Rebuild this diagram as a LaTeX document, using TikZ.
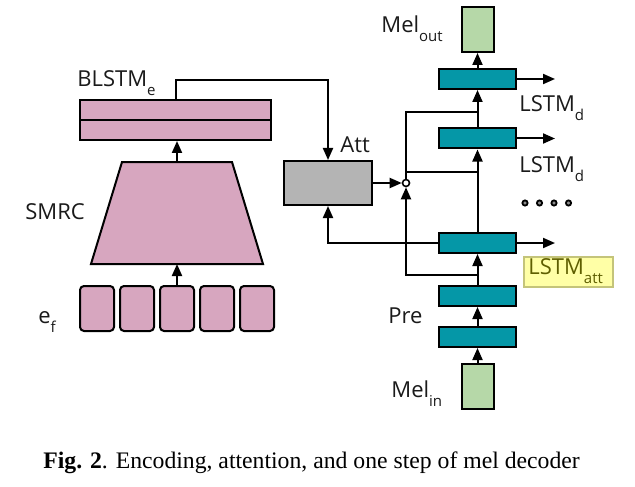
\documentclass[tikz,border=0pt]{standalone}
\usepackage{fontspec}
\setmainfont{Liberation Serif}
\newfontfamily\diagfont{Open Sans}
\definecolor{encPink}{HTML}{D7A6BF}
\definecolor{decTeal}{HTML}{0597A7}
\definecolor{attGray}{HTML}{B4B4B4}
\definecolor{melGreen}{HTML}{B6D8A8}
\definecolor{attYellow}{HTML}{FFFFA6}
\definecolor{attBorder}{HTML}{C4C47A}
\definecolor{attText}{HTML}{5E5E00}
\definecolor{labelText}{HTML}{1A1A1A}
\usetikzlibrary{calc,positioning,arrows.meta}

\newcommand{\lsub}[1]{\raisebox{-4.5pt}{\fontsize{7.5}{8}\selectfont #1}}

\begin{document}
\begin{tikzpicture}[x=0.5pt, y=-0.5pt,
  enc/.style={draw=black, line width=1pt, fill=encPink},
  frame/.style={enc, rounded corners=2pt, minimum width=17pt, minimum height=22.5pt, inner sep=0pt},
  lstm/.style={draw=black, line width=1pt, fill=decTeal, minimum width=38.5pt, minimum height=10pt, inner sep=0pt},
  mel/.style={draw=black, line width=1pt, fill=melGreen, minimum width=16pt, minimum height=22.5pt, inner sep=0pt},
  lbl/.style={font=\diagfont\fontsize{11}{13}\selectfont, text=labelText, inner sep=0pt, anchor=base west},
  arr/.style={-{Triangle[length=6pt,width=5pt]}, line width=1pt},
  wire/.style={line width=1pt}
]
  \useasboundingbox (0,0) rectangle (635,486);

  % encoder
  \node[enc, minimum width=95.5pt, minimum height=20pt, inner sep=0pt] (blstm) at (175.5,120) {};
  \draw[wire] (blstm.west) -- (blstm.east);
  \draw[enc] (122,162) -- (232,162) -- (263,264) -- (91,264) -- cycle;
  \coordinate (smrcTop) at (177,162);
  \coordinate (smrcBot) at (177,264);
  \foreach \i in {1,...,5}
    \node[frame] (ef\i) at (57+40*\i,308.5) {};

  \draw[arr] (ef3.north) -- (smrcBot);
  \draw[arr] (smrcTop) -- (smrcTop |- blstm.south);

  % attention
  \node[draw=black, line width=1pt, fill=attGray, minimum width=44pt, minimum height=22pt, inner sep=0pt] (att) at (328,183) {};
  \node[circle, draw=black, line width=0.8pt, fill=white, minimum size=3.5pt, inner sep=0pt] (mix) at (406,183) {};

  % decoder
  \node[mel] (melin) at (477.5,386.5) {};
  \node[lstm] (pre2) at (477.5,337) {};
  \node[lstm] (pre1) at (477.5,296) {};
  \node[lstm] (lstmatt) at (477.5,243) {};
  \node[lstm] (lstmd2) at (477.5,138.5) {};
  \node[lstm] (lstmd1) at (477.5,79) {};
  \node[mel] (melout) at (477.5,29.5) {};

  \coordinate (jTop) at (477.5,112);
  \coordinate (jMid) at (477.5,172);
  \coordinate (jLow) at (477.5,275);

  \draw[arr] (melin.north) -- (pre2.south);
  \draw[arr] (pre2.north) -- (pre1.south);
  \draw[arr] (pre1.north) -- (lstmatt.south);
  \draw[arr] (lstmatt.north) -- (lstmd2.south);
  \draw[arr] (lstmd2.north) -- (lstmd1.south);
  \draw[arr] (lstmd1.north) -- (melout.south);
  \foreach \b in {lstmd1,lstmd2,lstmatt}
    \draw[arr] (\b.east) -- ++(38,0);

  \draw[arr] (blstm.north) -- ++(0,-19) -| (att.north);
  \draw[arr] (att.east) -- (mix.west);
  \draw[arr] (lstmatt.west) -| (att.south);
  \draw[arr] (jLow) -| (mix.south);
  \draw[wire] (mix.north) |- (jTop);
  \draw[wire] (mix.north |- jMid) -- (jMid);

  % labels
  \node[lbl] (blstmLbl) at (77,87) {BLSTM\lsub{e}};
  \node[lbl] (smrcLbl) at (25,219) {SMRC};
  \node[lbl] (efLbl) at (38,323) {e\lsub{f}};
  \node[lbl] (attLbl) at (340,153) {Att};
  \node[lbl] (meloutLbl) at (381,33) {Mel\lsub{out}};
  \node[lbl] (lstmdLblA) at (519,112) {LSTM\lsub{d}};
  \node[lbl] (lstmdLblB) at (519,172) {LSTM\lsub{d}};
  \node[lbl] (preLbl) at (388,323) {Pre};
  \node[lbl] (melinLbl) at (391,397) {Mel\lsub{in}};
  \foreach \x [count=\i] in {525,539.5,554,568.5}
    \node[circle, draw=black, fill=black!45, line width=0.9pt, minimum size=2.6pt, inner sep=0pt] (dot\i) at (\x,203) {};

  \node[draw=attBorder, fill=attYellow, line width=0.6pt, minimum width=44.5pt, minimum height=15pt, inner sep=0pt] (attTag) at (568.5,272) {};
  \begin{scope}
    \clip (attTag.south west) rectangle (attTag.north east);
    \node[lbl, text=attText] (attTagLbl) at (528,274) {LSTM\lsub{att}};
  \end{scope}

  % caption
  \node[anchor=base west, inner sep=0pt, font=\fontsize{11.85}{14}\selectfont] (caption) at (43,468)
    {\textbf{Fig. 2}. Encoding, attention, and one step of mel decoder};
\end{tikzpicture}
\end{document}
